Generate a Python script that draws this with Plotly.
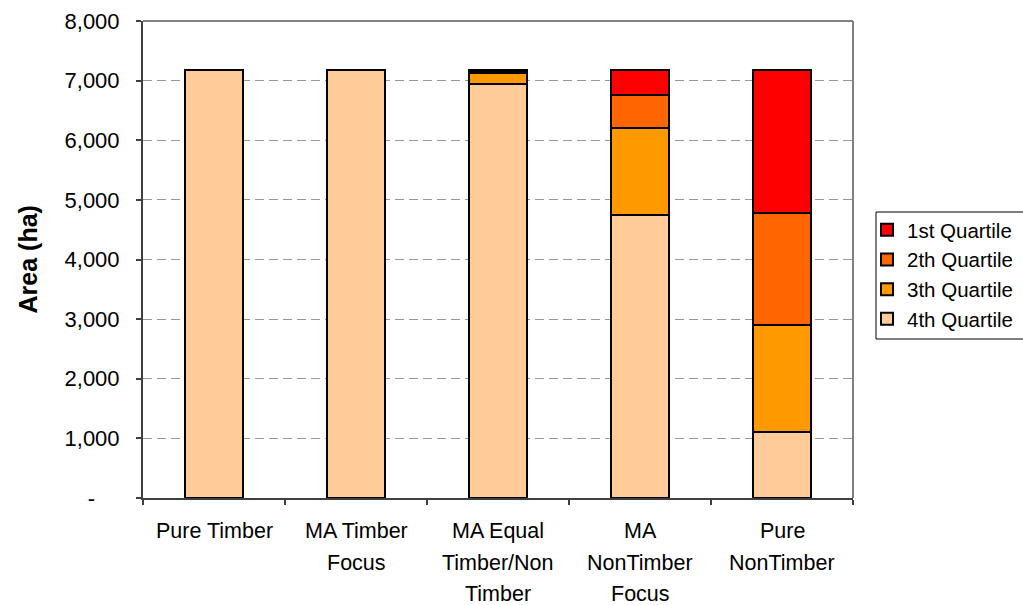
import plotly.graph_objects as go

# Management alternatives on the x axis ("<br>" marks the line breaks of each label)
categories = [
    "Pure Timber",
    "MA Timber<br>Focus",
    "MA Equal<br>Timber/Non<br>Timber",
    "MA<br>NonTimber<br>Focus",
    "Pure<br>NonTimber",
]

# Area (ha) per quartile, stacked from the 4th quartile upwards
q4 = [7180, 7180, 6940, 4750, 1105]
q3 = [0, 0, 195, 1450, 1800]
q2 = [0, 0, 30, 555, 1880]
q1 = [0, 0, 15, 425, 2395]

series_names = ["4th Quartile", "3th Quartile", "2th Quartile", "1st Quartile"]
series_values = [q4, q3, q2, q1]
series_colors = ["#FFCC99", "#FF9900", "#FF6600", "#FF0000"]

y_tickvals = [0, 1000, 2000, 3000, 4000, 5000, 6000, 7000, 8000]
y_ticktext = ["-\u00a0\u00a0\u00a0\u00a0", "1,000", "2,000", "3,000", "4,000",
              "5,000", "6,000", "7,000", "8,000"]

FONT = "Liberation Sans, Arial, sans-serif"

fig = go.Figure()
for name, vals, col in zip(series_names, series_values, series_colors):
    fig.add_trace(go.Bar(
        x=categories, y=vals, name=name,
        marker=dict(color=col, line=dict(color="#000000", width=2)),
        width=0.41,
    ))

# Category labels, one annotation per text line
annotations = []
for cat in categories:
    for i, line in enumerate(cat.split("<br>")):
        annotations.append(dict(
            x=cat, xref="x", y=0, yref="paper",
            yshift=-(33 + 31.5 * i), yanchor="middle", xanchor="center",
            text=line, showarrow=False,
            font=dict(family=FONT, size=21.5, color="#000000"),
        ))

# Rotated y-axis title
annotations.append(dict(
    x=-0.162, xref="paper", y=0.5, yref="paper",
    text="<b>Area (ha)</b>", textangle=-90, showarrow=False,
    xanchor="center", yanchor="middle",
    font=dict(family=FONT, size=25, color="#000000"),
))

shapes = [
    # top and right frame of the plot area
    dict(type="line", xref="paper", yref="paper", x0=0, x1=1, y0=1, y1=1,
         line=dict(color="#808080", width=2)),
    dict(type="line", xref="paper", yref="paper", x0=1, x1=1, y0=0, y1=1,
         line=dict(color="#808080", width=2)),
    # legend frame
    dict(type="rect", xref="paper", yref="paper",
         x0=(876 - 143) / 710, x1=(1030 - 143) / 710,
         y0=(498 - 339) / 477, y1=(498 - 212) / 477,
         line=dict(color="#000000", width=1), fillcolor="rgba(0,0,0,0)"),
]

fig.update_layout(
    width=1023, height=605,
    margin=dict(l=143, r=170, t=21, b=107, autoexpand=False),
    paper_bgcolor="#FFFFFF", plot_bgcolor="#FFFFFF",
    barmode="stack",
    font=dict(family=FONT, size=21, color="#000000"),
    showlegend=True,
    legend=dict(
        x=(867 - 143) / 710, xanchor="left",
        y=(498 - 210) / 477, yanchor="top",
        traceorder="reversed",
        bgcolor="rgba(0,0,0,0)", borderwidth=0,
        font=dict(family=FONT, size=20.5, color="#000000"),
    ),
    annotations=annotations,
    shapes=shapes,
)

fig.update_xaxes(
    type="category", showticklabels=False,
    showline=True, linecolor="#404040", linewidth=2,
    ticks="outside", tickson="boundaries", ticklen=5, tickcolor="#404040", tickwidth=1.5,
    showgrid=False, zeroline=False,
)

fig.update_yaxes(
    range=[0, 8000], tickvals=y_tickvals, ticktext=y_ticktext,
    showline=True, linecolor="#404040", linewidth=2,
    ticks="outside", ticklen=5, tickcolor="#404040", tickwidth=1.5,
    ticklabelstandoff=12,
    showgrid=True, gridcolor="#999999", gridwidth=1, griddash="9px,5px",
    zeroline=False,
    tickfont=dict(family=FONT, size=22, color="#000000"),
)

fig.write_html("out.html")
